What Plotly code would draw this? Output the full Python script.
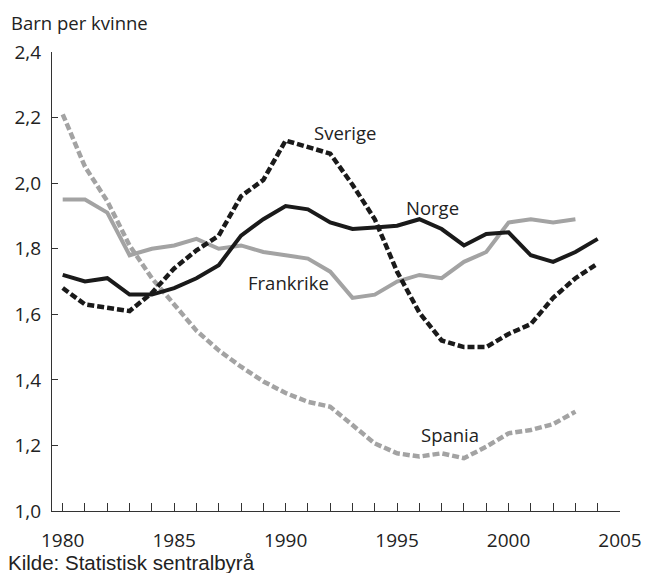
import plotly.graph_objects as go

years = list(range(1980, 2005))
years_short = list(range(1980, 2004))

norge = [1.72, 1.70, 1.71, 1.66, 1.66, 1.68, 1.71, 1.75, 1.84, 1.89, 1.93, 1.92, 1.88,
         1.86, 1.865, 1.87, 1.89, 1.86, 1.81, 1.845, 1.85, 1.78, 1.76, 1.79, 1.83]
sverige = [1.68, 1.63, 1.62, 1.61, 1.665, 1.74, 1.795, 1.84, 1.96, 2.01, 2.13, 2.11, 2.09,
           1.995, 1.89, 1.73, 1.605, 1.52, 1.50, 1.50, 1.54, 1.57, 1.65, 1.71, 1.755]
frankrike = [1.95, 1.95, 1.91, 1.78, 1.80, 1.81, 1.83, 1.80, 1.81, 1.79, 1.78, 1.77, 1.73,
             1.65, 1.66, 1.70, 1.72, 1.71, 1.76, 1.79, 1.88, 1.89, 1.88, 1.89]
spania = [2.21, 2.05, 1.945, 1.81, 1.71, 1.63, 1.55, 1.49, 1.44, 1.395, 1.36, 1.333, 1.318,
          1.262, 1.206, 1.176, 1.166, 1.176, 1.161, 1.196, 1.237, 1.247, 1.265, 1.303]

y_ticks = [1.0, 1.2, 1.4, 1.6, 1.8, 2.0, 2.2, 2.4]
y_ticktext = ["1,0", "1,2", "1,4", "1,6", "1,8", "2,0", "2,2", "2,4"]
x_ticks = [1980, 1985, 1990, 1995, 2000, 2005]

BLACK = "#1a1a1a"
GRAY = "#a3a3a3"
TEXT = "#222222"
FONT = "Open Sans"

fig = go.Figure()
fig.add_trace(go.Scatter(x=years_short, y=spania, mode="lines",
                         line=dict(color=GRAY, width=4.5, dash="7px,3px")))
fig.add_trace(go.Scatter(x=years_short, y=frankrike, mode="lines",
                         line=dict(color=GRAY, width=4)))
fig.add_trace(go.Scatter(x=years, y=sverige, mode="lines",
                         line=dict(color=BLACK, width=4.5, dash="7px,3px")))
fig.add_trace(go.Scatter(x=years, y=norge, mode="lines",
                         line=dict(color=BLACK, width=4)))

labels = [("Sverige", 1992.66, 2.153), ("Norge", 1996.6, 1.927),
          ("Frankrike", 1990.15, 1.698), ("Spania", 1997.37, 1.232)]
annotations = [dict(text=t, x=x, y=y, xref="x", yref="y", showarrow=False,
                    font=dict(family=FONT, size=18.5, color=TEXT))
               for t, x, y in labels]
annotations.append(dict(text="Barn per kvinne", xref="paper", yref="paper",
                        x=(9 - 52) / 568, y=1 + (52 - 22) / 459, xanchor="left",
                        yanchor="middle", showarrow=False,
                        font=dict(family=FONT, size=18.5, color=TEXT)))
annotations.append(dict(text="Kilde: Statistisk sentralbyrå", xref="paper", yref="paper",
                        x=(6 - 52) / 568, y=(511 - 562) / 459, xanchor="left",
                        yanchor="middle", showarrow=False,
                        font=dict(family="Liberation Sans", size=20.5, color=TEXT)))

fig.update_layout(
    width=645, height=573,
    margin=dict(l=52, r=25, t=52, b=62),
    paper_bgcolor="white", plot_bgcolor="white",
    showlegend=False,
    annotations=annotations,
    xaxis=dict(range=[1979.52, 2005], tickvals=x_ticks, ticks="inside", ticklen=8,
               tickcolor="#333333", tickwidth=1, showline=True, linecolor="#333333",
               linewidth=1.2, showgrid=False, zeroline=False, automargin=False,
               ticklabelstandoff=12,
               tickfont=dict(family=FONT, size=19, color=TEXT),
               minor=dict(dtick=1, tick0=1980, ticks="inside", ticklen=8,
                          tickcolor="#333333", tickwidth=1, showgrid=False)),
    yaxis=dict(range=[1.0, 2.4], tickvals=y_ticks, ticktext=y_ticktext, ticks="inside",
               ticklen=6, tickcolor="#333333", tickwidth=1, showline=True,
               linecolor="#333333", linewidth=1.2, showgrid=False, zeroline=False,
               automargin=False, ticklabelstandoff=6,
               tickfont=dict(family=FONT, size=19, color=TEXT)),
)

fig.write_html("out.html", config={"displayModeBar": False},
               post_script="document.body.style.margin='0';")
